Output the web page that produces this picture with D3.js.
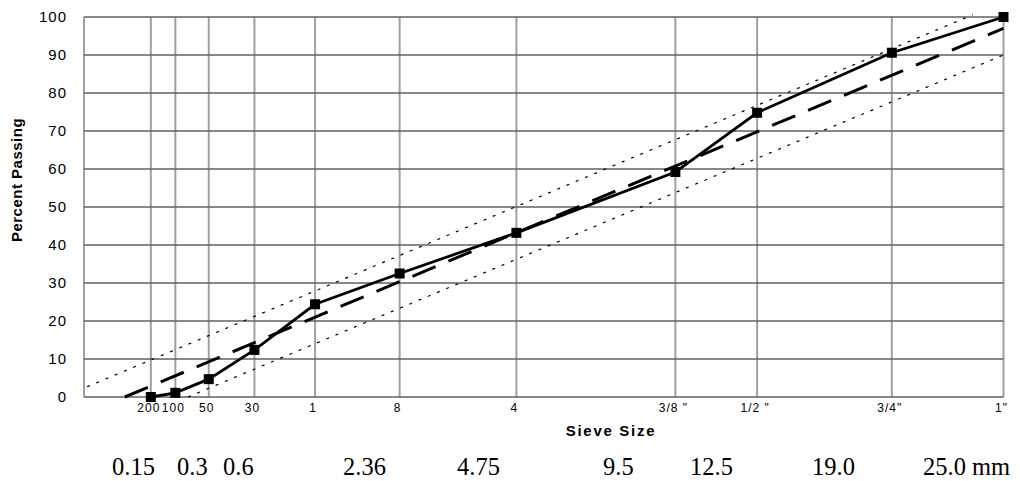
<!DOCTYPE html>
<html>
<head>
<meta charset="utf-8">
<script src="https://cdn.jsdelivr.net/npm/d3@7"></script>
<style>
  html, body { margin: 0; padding: 0; background: #fff; }
  svg { display: block; }
</style>
</head>
<body>
<svg id="chart" width="1020" height="481"></svg>
<script>
// ---------- data ----------
const sieveLabels = ["200", "100", "50", "30", "1", "8", "4", "3/8 \"", "1/2 \"", "3/4\"", "1\""];
const sieveSizes  = [0.075, 0.15, 0.3, 0.6, 1.18, 2.36, 4.75, 9.525, 12.7, 19.05, 25.4];
const percentPassing = [0, 1.1, 4.7, 12.4, 24.4, 32.5, 43.2, 59.2, 74.8, 90.6, 100];
const yTicks = [0, 10, 20, 30, 40, 50, 60, 70, 80, 90, 100];
const maxDensitySize = [0.025, 25.4];
const maxDensityPct  = [0, 97];
const upperLimitSize = [0.00008, 23.56];
const upperLimitPct  = [2.7, 100.6];
const lowerLimitSize = [0.2, 25.4];
const lowerLimitPct  = [0, 90];
const mmLabels = ["0.15", "0.3", "0.6", "2.36", "4.75", "9.5", "12.5", "19.0", "25.0 mm"];

// ---------- layout ----------
const mmLabelX = [112, 177, 223, 343, 457, 603, 690, 812, 923];
const plot = { left: 84, right: 1003.5, top: 17, bottom: 397 };

const svg = d3.select("#chart");
svg.append("rect").attr("width", 1020).attr("height", 481).attr("fill", "#fff");

const x = d3.scalePow().exponent(0.45).domain([0, 25.4]).range([plot.left, plot.right]);
const y = d3.scaleLinear().domain([0, 100]).range([plot.bottom, plot.top]);

// vertical gridlines (left edge + sieves)
const g = svg.append("g");
g.append("line")
  .attr("x1", plot.left).attr("x2", plot.left)
  .attr("y1", plot.top).attr("y2", plot.bottom)
  .attr("stroke", "#a0a0a0").attr("stroke-width", 2);
g.selectAll("line.v").data(sieveSizes).enter().append("line")
  .attr("class", "v")
  .attr("x1", d => x(d)).attr("x2", d => x(d))
  .attr("y1", plot.top).attr("y2", plot.bottom)
  .attr("stroke", "#a0a0a0").attr("stroke-width", 2);

// horizontal gridlines
g.selectAll("line.h").data(yTicks).enter().append("line")
  .attr("class", "h")
  .attr("x1", plot.left).attr("x2", plot.right)
  .attr("y1", d => y(d)).attr("y2", d => y(d))
  .attr("stroke", "#606060").attr("stroke-width", 1.3);

// y tick labels
svg.append("g").selectAll("text").data(yTicks).enter().append("text")
  .attr("x", 67).attr("y", d => y(d)).attr("dy", "0.36em")
  .attr("text-anchor", "end")
  .attr("font-family", "Liberation Sans, Arial, sans-serif")
  .attr("font-size", 15).attr("letter-spacing", 1)
  .attr("fill", "#000")
  .text(d => d);

// sieve tick labels
svg.append("g").selectAll("text").data(sieveSizes).enter().append("text")
  .attr("x", d => x(d) - 2).attr("y", 412)
  .attr("text-anchor", "middle")
  .attr("font-family", "Liberation Sans, Arial, sans-serif")
  .attr("font-size", 12).attr("letter-spacing", 1)
  .attr("fill", "#000")
  .text((d, i) => sieveLabels[i]);

// axis titles
svg.append("text")
  .attr("transform", "translate(22,180) rotate(-90)")
  .attr("text-anchor", "middle")
  .attr("font-family", "Liberation Sans, Arial, sans-serif")
  .attr("font-size", 15).attr("font-weight", "bold").attr("letter-spacing", 0.5)
  .text("Percent Passing");
svg.append("text")
  .attr("x", 611).attr("y", 436)
  .attr("text-anchor", "middle")
  .attr("font-family", "Liberation Sans, Arial, sans-serif")
  .attr("font-size", 15).attr("font-weight", "bold").attr("letter-spacing", 1.7)
  .text("Sieve Size");

// mm labels
svg.append("g").selectAll("text").data(mmLabels).enter().append("text")
  .attr("x", (d, i) => mmLabelX[i]).attr("y", 475)
  .attr("font-family", "Liberation Serif, Times New Roman, serif")
  .attr("font-size", 24.5)
  .attr("fill", "#000")
  .text(d => d);

// lines
const line = d3.line().x(d => x(d[0])).y(d => y(d[1]));
const zip = (a, b) => a.map((v, i) => [v, b[i]]);

svg.append("path").datum(zip(upperLimitSize, upperLimitPct))
  .attr("d", line).attr("fill", "none")
  .attr("stroke", "#000").attr("stroke-width", 1.2).attr("stroke-dasharray", "3,7");
svg.append("path").datum(zip(lowerLimitSize, lowerLimitPct))
  .attr("d", line).attr("fill", "none")
  .attr("stroke", "#000").attr("stroke-width", 1.2).attr("stroke-dasharray", "3,7");
svg.append("path").datum(zip(maxDensitySize, maxDensityPct))
  .attr("d", line).attr("fill", "none")
  .attr("stroke", "#000").attr("stroke-width", 3).attr("stroke-dasharray", "25,14");

const pts = zip(sieveSizes, percentPassing);
svg.append("path").datum(pts)
  .attr("d", line).attr("fill", "none")
  .attr("stroke", "#000").attr("stroke-width", 2.8).attr("stroke-linejoin", "miter");

const ms = 10;
svg.append("g").selectAll("rect").data(pts).enter().append("rect")
  .attr("x", d => x(d[0]) - ms / 2).attr("y", d => y(d[1]) - ms / 2)
  .attr("width", ms).attr("height", ms)
  .attr("fill", "#000");
</script>
</body>
</html>
